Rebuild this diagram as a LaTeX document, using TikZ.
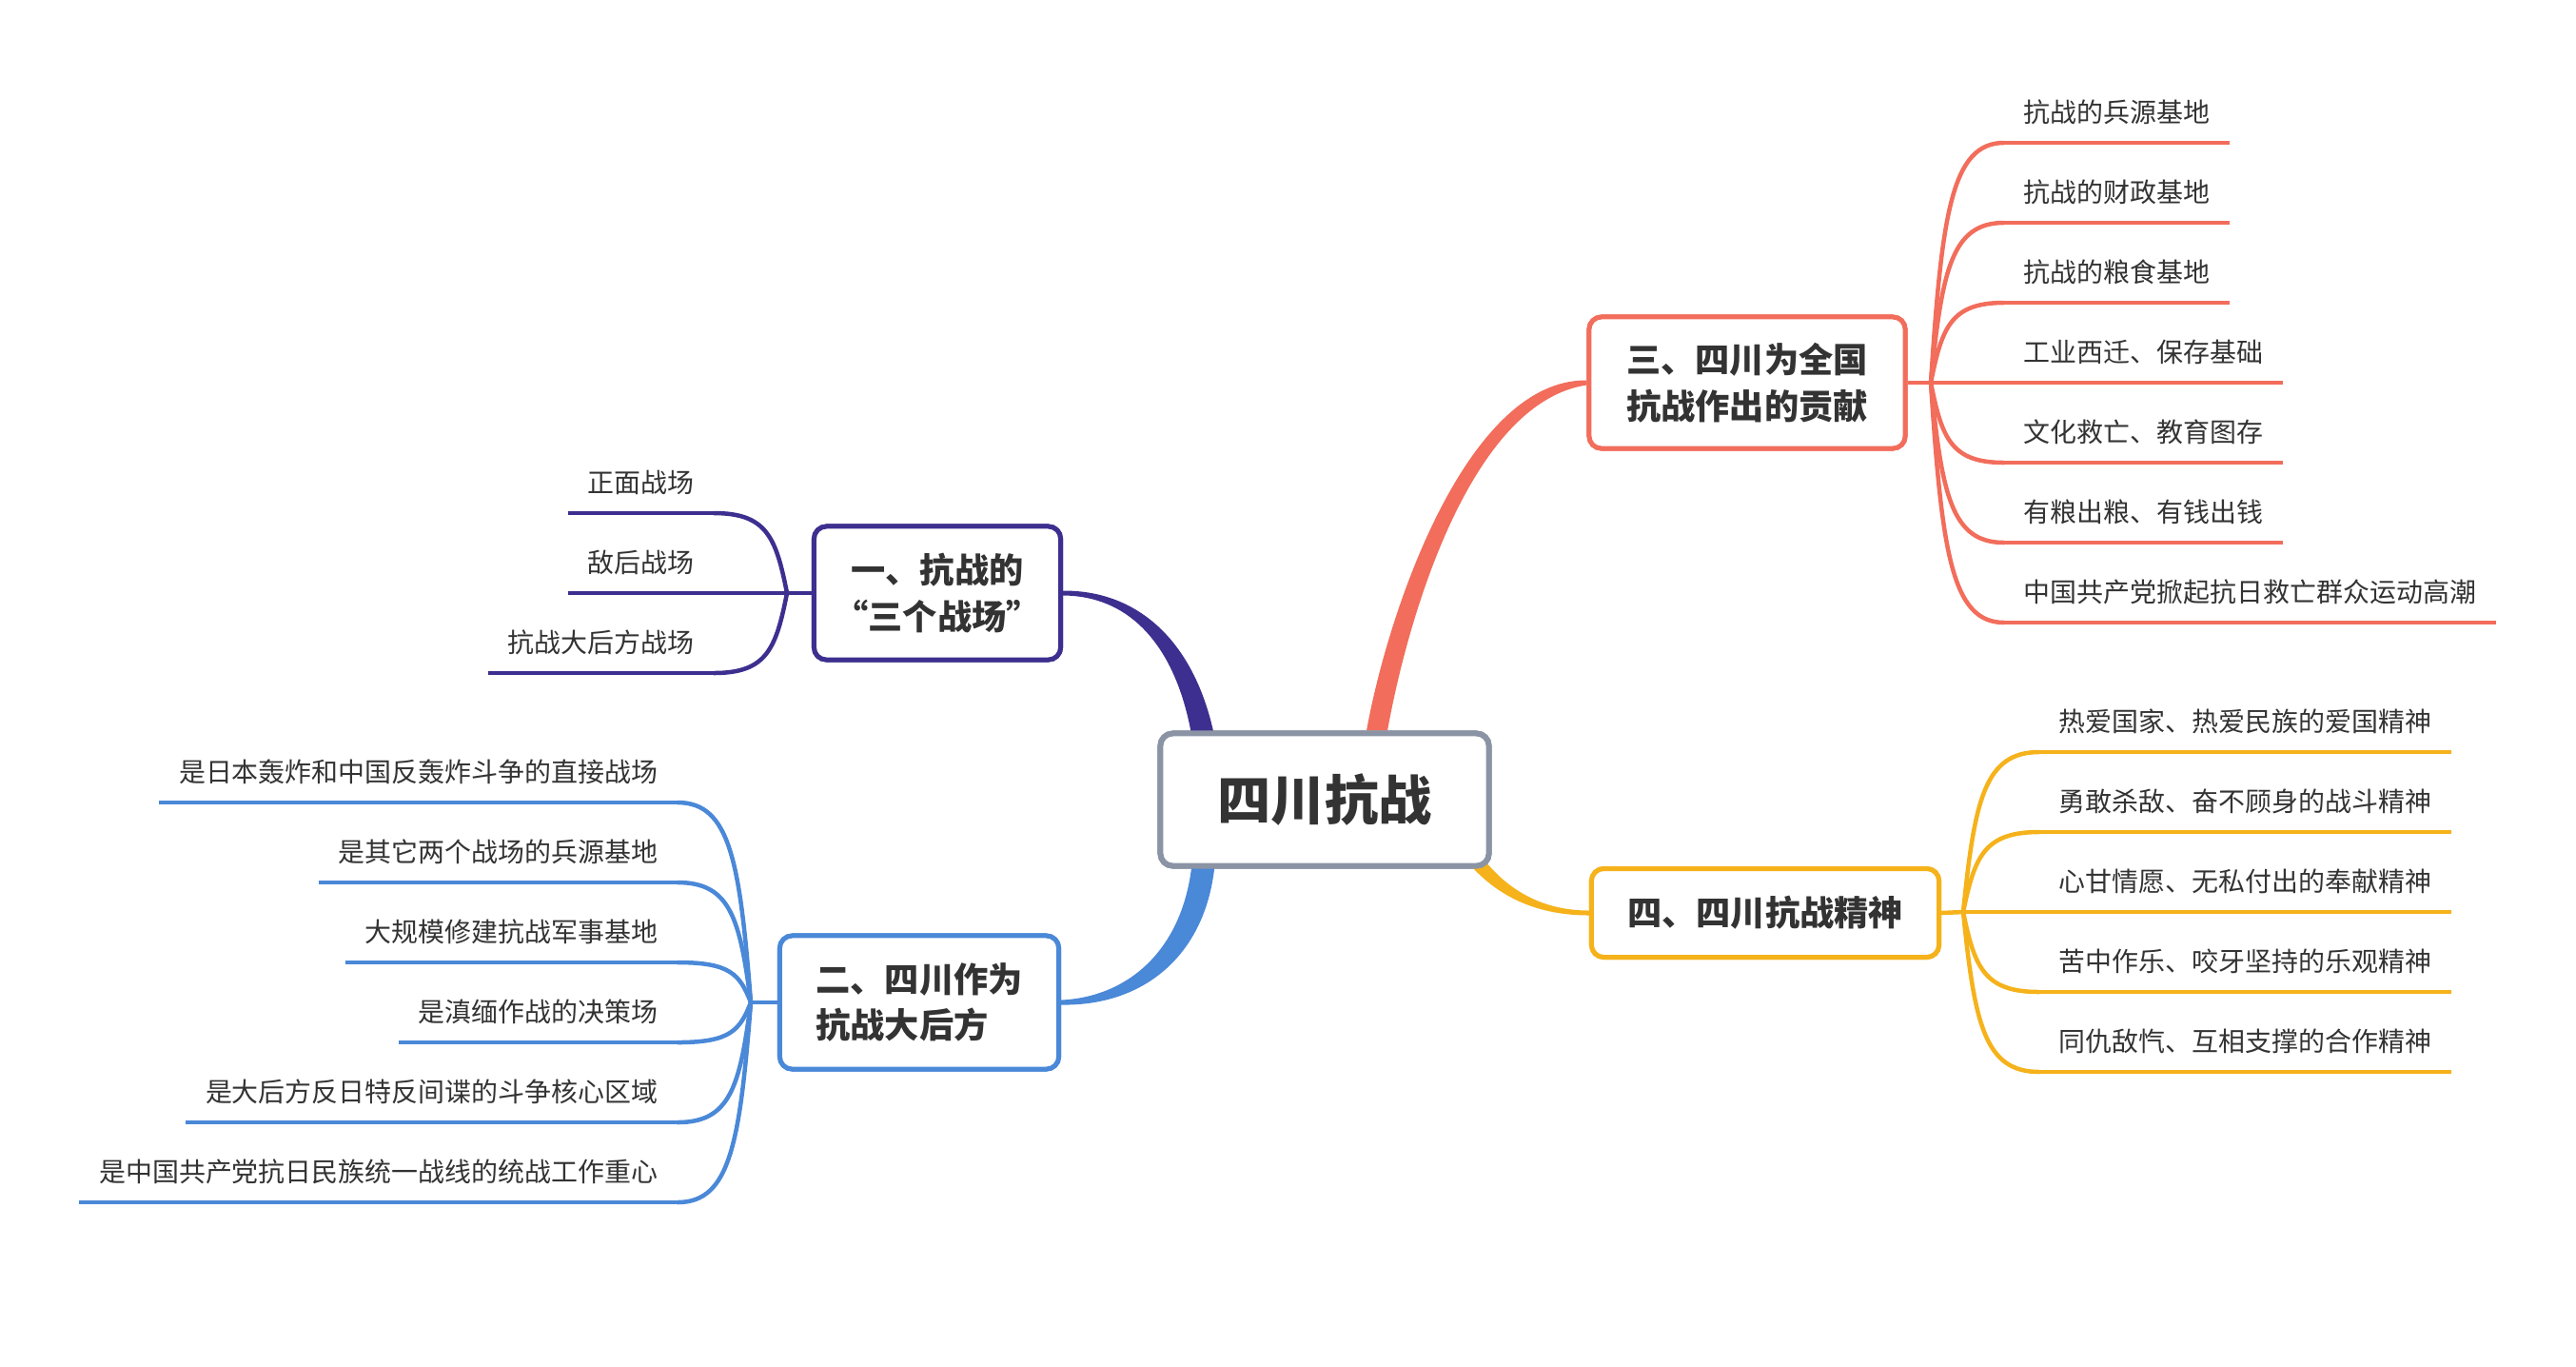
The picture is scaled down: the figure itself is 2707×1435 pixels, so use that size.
\documentclass[tikz,border=0pt]{standalone}
\usepackage{fontspec}
\newfontfamily\cjk{Noto Sans CJK SC}
\usetikzlibrary{calc}
\definecolor{cR}{HTML}{F26D5B}
\definecolor{cP}{HTML}{3D2F8F}
\definecolor{cB}{HTML}{4A88D8}
\definecolor{cY}{HTML}{F5B21A}
\definecolor{cG}{HTML}{8A94A4}
\definecolor{txt}{HTML}{333333}
\newcommand{\brc}[3]{\draw[#1] let \p1=(#2), \p2=(#3) in (\p1) .. controls ({\x1+0.15*(\x2-\x1)},{\y1+0.7*(\y2-\y1)}) and ({\x1+0.28*(\x2-\x1)},{\y2}) .. (\p2);}
\begin{document}
\begin{tikzpicture}[x=0.01cm,y=-0.01cm,
  leaf/.style={font=\cjk\fontsize{7.95pt}{9pt}\selectfont, text=txt, inner xsep=0.2cm, inner ysep=0.17cm, text height=0.88em, text depth=0.12em},
  mainbox/.style={draw, line width=0.05cm, rounded corners=0.13cm, fill=white, font=\cjk\bfseries\fontsize{10.3pt}{13.8pt}\selectfont, text=txt, align=center, inner sep=0pt},
  lw/.style={line width=0.045cm}]
\fill[white] (0,0) rectangle (2707,1435);
\useasboundingbox (0,0) rectangle (2707,1435);

% ---- main nodes (positions; redrawn on top at the end)
\path (1392,840) node[mainbox, draw=cG, line width=0.06cm, minimum width=3.45cm, minimum height=1.39cm, font=\cjk\bfseries\fontsize{16pt}{19pt}\selectfont] (root) {四川抗战};
\path (985,623) node[mainbox, draw=cP, minimum width=2.59cm, minimum height=1.40cm] (m1) {一、抗战的\\“三个战场”};
\path (966,1053) node[mainbox, draw=cB, minimum width=2.93cm, minimum height=1.40cm, align=left] (m2) {二、四川作为\\抗战大后方};
\path (1836,402) node[mainbox, draw=cR, minimum width=3.32cm, minimum height=1.38cm] (m3) {三、四川为全国\\抗战作出的贡献};
\path (1855,959) node[mainbox, draw=cY, minimum width=3.65cm, minimum height=0.93cm] (m4) {四、四川抗战精神};

% ---- main tapered connectors
\fill[cR] ($(root.north)+(44,0)$) .. controls (1459,640) and (1542,398) .. ($(m3.west)+(0,-2.5)$) -- ($(m3.west)+(0,2.5)$) .. controls (1548,422) and (1481,640) .. ($(root.north)+(66,0)$) -- cycle;
\fill[cP] ($(m1.east)+(0,-2.5)$) .. controls (1197,620) and (1257,675) .. ($(root.north)+(-115,10)$) -- ($(root.north)+(-139,10)$) .. controls (1238,685) and (1192,626) .. ($(m1.east)+(0,2.5)$) -- cycle;
\fill[cB] ($(m2.east)+(0,-2.5)$) .. controls (1188,1047) and (1245,995) .. ($(root.south)+(-139,-10)$) -- ($(root.south)+(-115,-10)$) .. controls (1270,1000) and (1205,1057) .. ($(m2.east)+(0,2.5)$) -- cycle;
\fill[cY] ($(root.south)+(164,-14)$) .. controls (1584,936) and (1622,956.5) .. ($(m4.west)+(0,-2.5)$) -- ($(m4.west)+(0,2.5)$) .. controls (1618,961.5) and (1576,944) .. ($(root.south)+(152,-5)$) -- cycle;

% ---- split points
\coordinate (sP) at (827,623);
\coordinate (sB) at (789,1053);
\coordinate (sR) at (2029,402);
\coordinate (sY) at (2063,958);

% ---- leaves: purple
\node[leaf, anchor=south east] (p1) at (750,539) {正面战场};
\node[leaf, anchor=south east] (p2) at (750,623) {敌后战场};
\node[leaf, anchor=south east] (p3) at (750,707) {抗战大后方战场};
\draw[cP,lw] (m1.west) -- (sP);
\foreach \lf in {p1,p2,p3}{
  \brc{cP,lw}{sP}{\lf.south east}
  \draw[cP,lw] (\lf.south east) -- (\lf.south west);
}

% ---- leaves: blue
\node[leaf, anchor=south east] (b1) at (712,843) {是日本轰炸和中国反轰炸斗争的直接战场};
\node[leaf, anchor=south east] (b2) at (712,927) {是其它两个战场的兵源基地};
\node[leaf, anchor=south east] (b3) at (712,1011) {大规模修建抗战军事基地};
\node[leaf, anchor=south east] (b4) at (712,1095) {是滇缅作战的决策场};
\node[leaf, anchor=south east] (b5) at (712,1179) {是大后方反日特反间谍的斗争核心区域};
\node[leaf, anchor=south east] (b6) at (712,1263) {是中国共产党抗日民族统一战线的统战工作重心};
\draw[cB,lw] (m2.west) -- (sB);
\foreach \lf in {b1,b2,b3,b4,b5,b6}{
  \brc{cB,lw}{sB}{\lf.south east}
  \draw[cB,lw] (\lf.south east) -- (\lf.south west);
}

% ---- leaves: red
\node[leaf, anchor=south west] (r1) at (2106,150) {抗战的兵源基地};
\node[leaf, anchor=south west] (r2) at (2106,234) {抗战的财政基地};
\node[leaf, anchor=south west] (r3) at (2106,318) {抗战的粮食基地};
\node[leaf, anchor=south west] (r4) at (2106,402) {工业西迁、保存基础};
\node[leaf, anchor=south west] (r5) at (2106,486) {文化救亡、教育图存};
\node[leaf, anchor=south west] (r6) at (2106,570) {有粮出粮、有钱出钱};
\node[leaf, anchor=south west] (r7) at (2106,654) {中国共产党掀起抗日救亡群众运动高潮};
\draw[cR,lw] (m3.east) -- (sR);
\foreach \lf in {r1,r2,r3,r4,r5,r6,r7}{
  \brc{cR,lw}{sR}{\lf.south west}
  \draw[cR,lw] (\lf.south west) -- (\lf.south east);
}

% ---- leaves: yellow
\node[leaf, anchor=south west] (y1) at (2143,790) {热爱国家、热爱民族的爱国精神};
\node[leaf, anchor=south west] (y2) at (2143,874) {勇敢杀敌、奋不顾身的战斗精神};
\node[leaf, anchor=south west] (y3) at (2143,958) {心甘情愿、无私付出的奉献精神};
\node[leaf, anchor=south west] (y4) at (2143,1042) {苦中作乐、咬牙坚持的乐观精神};
\node[leaf, anchor=south west] (y5) at (2143,1126) {同仇敌忾、互相支撑的合作精神};
\draw[cY,lw] (m4.east) -- (sY);
\foreach \lf in {y1,y2,y3,y4,y5}{
  \brc{cY,lw}{sY}{\lf.south west}
  \draw[cY,lw] (\lf.south west) -- (\lf.south east);
}

% ---- main boxes on top
\path (1392,840) node[mainbox, draw=cG, line width=0.06cm, minimum width=3.45cm, minimum height=1.39cm, font=\cjk\bfseries\fontsize{16pt}{19pt}\selectfont] (rootb) {四川抗战};
\path (985,623) node[mainbox, draw=cP, minimum width=2.59cm, minimum height=1.40cm] (m1b) {一、抗战的\\“三个战场”};
\path (966,1053) node[mainbox, draw=cB, minimum width=2.93cm, minimum height=1.40cm, align=left] (m2b) {二、四川作为\\抗战大后方};
\path (1836,402) node[mainbox, draw=cR, minimum width=3.32cm, minimum height=1.38cm] (m3b) {三、四川为全国\\抗战作出的贡献};
\path (1855,959) node[mainbox, draw=cY, minimum width=3.65cm, minimum height=0.93cm] (m4b) {四、四川抗战精神};
\end{tikzpicture}
\end{document}
